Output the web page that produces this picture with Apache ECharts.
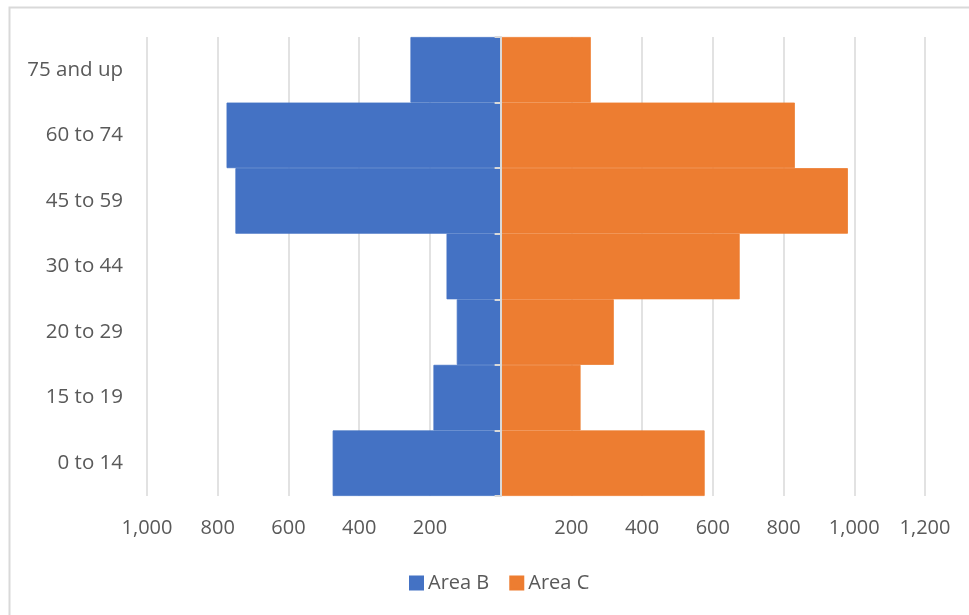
<!DOCTYPE html>
<html>
<head>
<meta charset="utf-8">
<script src="https://cdn.jsdelivr.net/npm/echarts@6/dist/echarts.min.js"></script>
<style>
  html, body { margin: 0; padding: 0; background: #fff; }
  #chart { width: 969px; height: 615px; }
</style>
</head>
<body>
<div id="chart"></div>
<script>
var categories = ["0 to 14", "15 to 19", "20 to 29", "30 to 44", "45 to 59", "60 to 74", "75 and up"];
// Area B is drawn to the left, so its values are stored as negatives
var areaB = [-475, -190, -124, -153, -750, -775, -255];
var areaC = [577, 226, 320, 676, 982, 832, 255];

var textColor = "#595959";
var fontFamily = "'Open Sans', sans-serif";

function fmt(v) {
  if (v === 0) return "";
  return Math.abs(v).toLocaleString("en-US");
}

var chart = echarts.init(document.getElementById("chart"));
chart.setOption({
  animation: false,
  textStyle: { fontFamily: fontFamily },
  graphic: [{
    type: "rect",
    shape: { x: 9.5, y: 7.5, width: 1000, height: 700 },
    style: { fill: "none", stroke: "#d9d9d9", lineWidth: 2 },
    silent: true
  }],
  grid: {
    left: 147, right: 44, top: 37, bottom: 119,
    containLabel: false,
    outerBoundsMode: "none"
  },
  legend: {
    left: 404,
    top: 568,
    itemWidth: 13,
    itemHeight: 13,
    itemGap: 20,
    icon: "rect",
    textStyle: { color: textColor, fontSize: 20, fontFamily: fontFamily },
    data: ["Area B", "Area C"]
  },
  xAxis: {
    type: "value",
    min: -1000,
    max: 1200,
    interval: 200,
    axisLine: { show: false },
    axisTick: { show: false },
    splitLine: { show: true, lineStyle: { color: "#d9d9d9", width: 1.5 } },
    axisLabel: {
      color: textColor,
      fontSize: 20,
      margin: 22,
      formatter: fmt
    }
  },
  yAxis: [
    {
      // category labels on the left edge
      type: "category",
      data: categories,
      position: "left",
      axisLine: { show: false, onZero: false },
      axisTick: { show: false },
      axisLabel: { color: textColor, fontSize: 20.5, margin: 24 }
    },
    {
      // axis line with ticks sitting at zero
      type: "category",
      data: categories,
      position: "right",
      z: 5,
      axisLine: { show: true, onZero: true, lineStyle: { color: "#d9d9d9", width: 2 } },
      axisTick: { show: true, inside: true, length: 6, lineStyle: { color: "#d9d9d9", width: 2 } },
      axisLabel: { show: false }
    }
  ],
  series: [
    {
      name: "Area B",
      type: "bar",
      stack: "pop",
      barCategoryGap: "0%",
      itemStyle: { color: "#4472C4", borderColor: "#4472C4", borderWidth: 0.8 },
      data: areaB
    },
    {
      name: "Area C",
      type: "bar",
      stack: "pop",
      barCategoryGap: "0%",
      itemStyle: { color: "#ED7D31", borderColor: "#ED7D31", borderWidth: 0.8 },
      data: areaC
    }
  ]
});
</script>
</body>
</html>
